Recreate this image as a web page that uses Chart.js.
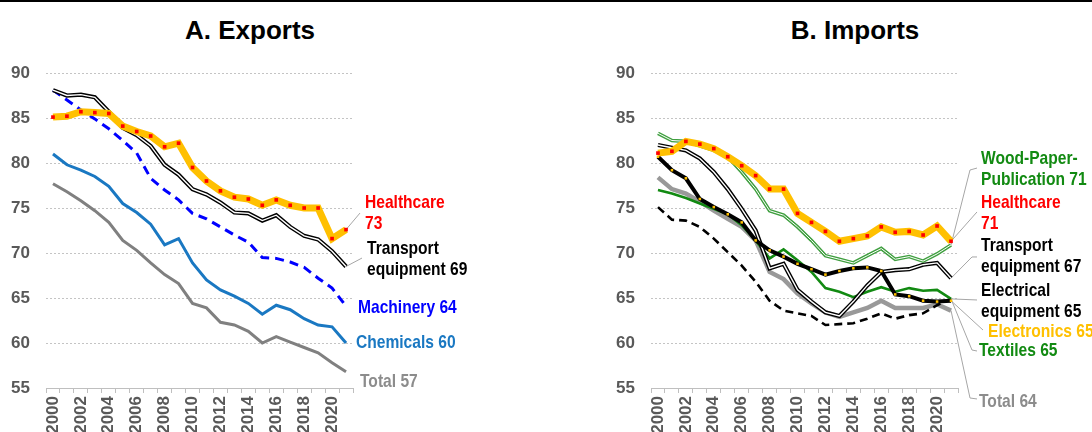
<!DOCTYPE html>
<html>
<head>
<meta charset="utf-8">
<script src="https://cdn.jsdelivr.net/npm/chart.js@4.4.1/dist/chart.umd.min.js"></script>
<style>
  body { margin: 0; width: 1092px; height: 432px; overflow: hidden; background: #fff; position: relative; }
  #topline { position: absolute; left: 0; top: 0; width: 1092px; height: 2px; background: #000; }
  .title { position: absolute; top: 15px; width: 300px; text-align: center; color: #000;
           font: bold 26px "Liberation Sans", Arial, sans-serif; }
  canvas { position: absolute; top: 0; }
</style>
</head>
<body>
<div id="topline"></div>
<div class="title" style="left:100px">A. Exports</div>
<div class="title" style="left:705px">B. Imports</div>
<canvas id="exportsChart" width="546" height="432" style="left:0;width:546px;height:432px"></canvas>
<canvas id="importsChart" width="546" height="432" style="left:546px;width:546px;height:432px"></canvas>
<script>
const years = ['2000','2001','2002','2003','2004','2005','2006','2007','2008','2009','2010',
               '2011','2012','2013','2014','2015','2016','2017','2018','2019','2020','2021'];

// A. Exports
const exHealthcare = [85.1,85.2,85.7,85.6,85.5,84.1,83.5,83.0,81.8,82.2,79.5,78.0,76.9,76.2,76.0,75.3,75.9,75.3,75.0,75.0,71.6,72.6];
const exTransport  = [88.1,87.5,87.6,87.3,85.7,83.9,83.1,81.9,79.8,78.7,77.1,76.5,75.6,74.5,74.4,73.6,74.2,72.9,71.9,71.5,70.2,68.5];
const exMachinery  = [88.1,87.0,85.9,84.9,83.8,82.5,81.1,78.3,77.0,75.9,74.4,73.8,72.9,72.0,71.2,69.5,69.4,69.0,68.4,67.2,66.1,64.1];
const exChemicals  = [81.0,79.8,79.2,78.5,77.4,75.5,74.5,73.2,70.9,71.6,68.9,67.0,65.9,65.2,64.4,63.2,64.2,63.7,62.7,62.0,61.8,60.0];
const exTotal      = [77.7,76.8,75.8,74.7,73.4,71.4,70.3,68.9,67.6,66.6,64.4,63.9,62.3,62.0,61.3,60.0,60.7,60.1,59.5,58.9,57.8,56.8];

// B. Imports
const imWood        = [83.3,82.5,82.4,81.9,81.4,80.7,79.0,77.1,74.7,74.2,72.9,71.4,69.7,69.3,68.9,69.7,70.5,69.3,69.6,69.1,69.9,70.9];
const imHealthcare  = [81.1,81.3,82.4,82.1,81.6,80.7,79.7,78.6,77.1,77.1,74.4,73.4,72.4,71.3,71.6,71.9,72.9,72.3,72.4,72.0,73.0,71.3];
const imTransport   = [82.0,81.7,81.4,80.5,79.0,77.1,74.9,72.5,68.3,68.8,65.9,64.6,63.4,63.0,64.6,66.4,67.9,68.1,68.2,68.7,68.9,67.2];
const imElectrical  = [75.1,73.7,73.6,72.9,71.6,70.1,68.6,66.8,64.7,63.6,63.3,63.0,62.0,62.1,62.2,62.7,63.3,62.7,63.1,63.3,64.2,64.9];
const imElectronics = [80.7,79.2,78.3,76.0,75.1,74.3,73.4,71.4,70.3,69.6,68.8,68.2,67.6,68.0,68.3,68.4,68.0,65.4,65.2,64.7,64.6,64.7];
const imTextiles    = [77.0,76.6,76.1,75.5,74.9,74.3,73.1,71.4,69.4,70.4,69.2,67.9,66.1,65.7,65.1,65.7,66.2,65.7,66.1,65.8,65.9,64.9];
const imTotal       = [78.4,77.1,76.6,75.7,74.7,73.8,72.9,71.4,67.9,67.1,65.5,64.4,63.4,62.9,63.4,63.9,64.7,63.9,63.9,63.9,64.3,63.6];

const FONT = '"Liberation Sans", Arial, sans-serif';
const TICK_GRAY = '#595959';
const SQUEEZE = 0.82; // the original labels use a narrow face

function line(data, color, width, extra) {
  return Object.assign({ data, borderColor: color, borderWidth: width, pointRadius: 0,
    tension: 0, fill: false }, extra || {});
}

// end labels with leader lines, placed in value units on the y scale
const endLabels = {
  id: 'endLabels',
  beforeDatasetsDraw(chart, args, opts) {
    const { ctx, chartArea } = chart;
    const y = chart.scales.y;
    ctx.save();
    ctx.strokeStyle = '#a6a6a6';
    ctx.lineWidth = 1;
    opts.items.forEach(item => {
      if (!item.leader) return;
      const pts = chart.getDatasetMeta(item.from).data;
      const last = pts[pts.length - 1];
      ctx.beginPath();
      ctx.moveTo(last.x, last.y);
      item.leader.forEach(p => ctx.lineTo(chartArea.right + p[0], y.getPixelForValue(p[1])));
      ctx.stroke();
    });
    ctx.restore();
  },
  afterDraw(chart, args, opts) {
    const { ctx, chartArea } = chart;
    const y = chart.scales.y;
    ctx.save();
    ctx.font = 'bold 19px ' + FONT;
    ctx.textBaseline = 'middle';
    ctx.textAlign = 'left';
    opts.items.forEach(item => {
      ctx.fillStyle = item.color;
      item.lines.forEach((t, i) => {
        ctx.save();
        ctx.translate(chartArea.right + item.dx, y.getPixelForValue(item.v) + i * 21);
        ctx.scale(SQUEEZE, 1);
        ctx.fillText(t, 0, 0);
        ctx.restore();
      });
    });
    ctx.restore();
  }
};

function makeOptions(yWidth, padRight, items) {
  return {
    responsive: false,
    animation: false,
    layout: { padding: { top: 73, right: padRight, left: 0, bottom: 0 } },
    plugins: { legend: { display: false }, tooltip: { enabled: false }, endLabels: { items } },
    scales: {
      x: {
        offset: true,
        grid: { drawOnChartArea: false, drawTicks: true, tickLength: 5, color: '#bfbfbf', offset: true },
        border: { display: true, color: '#bfbfbf' },
        ticks: {
          autoSkip: false, maxRotation: 90, minRotation: 90, padding: 3,
          color: TICK_GRAY, font: { family: FONT, size: 17, weight: 'bold' },
          callback: (v, i) => (i % 2 === 0 ? years[i] : '')
        },
        afterFit: s => { s.height = 44; }
      },
      y: {
        min: 55, max: 90,
        ticks: { stepSize: 5, padding: 16, color: TICK_GRAY, font: { family: FONT, size: 17, weight: 'bold' } },
        grid: { drawTicks: false, color: c => (c.tick.value === 55 ? 'rgba(0,0,0,0)' : '#c4c4c4') },
        border: { display: false, dash: [2, 2] },
        afterFit: s => { s.width = yWidth; }
      }
    }
  };
}

// datasets are listed top-most first (Chart.js paints the last one first)
new Chart(document.getElementById('exportsChart'), {
  type: 'line',
  data: {
    labels: years,
    datasets: [
      line(exHealthcare, '#ffc000', 7, { pointRadius: 2.6, pointStyle: 'rect', pointBackgroundColor: '#ff0000', pointBorderWidth: 0 }),
      line(exTransport, '#ffffff', 1.4),
      line(exTransport, '#000000', 4.2),
      line(exMachinery, '#0000ff', 3, { borderDash: [9, 6] }),
      line(exChemicals, '#1a78c2', 3),
      line(exTotal, '#808080', 3)
    ]
  },
  options: makeOptions(46, 193, [
    { lines: ['Healthcare', '73'], color: '#ff0000', dx: 12, v: 75.56, from: 0, leader: [[7, 74.44]] },
    { lines: ['Transport', 'equipment 69'], color: '#000000', dx: 14, v: 70.44, from: 2, leader: [[9, 69.44]] },
    { lines: ['Machinery 64'], color: '#0000ff', dx: 5, v: 63.89 },
    { lines: ['Chemicals 60'], color: '#1a78c2', dx: 3, v: 60.0 },
    { lines: ['Total 57'], color: '#8c8c8c', dx: 7, v: 55.67 }
  ]),
  plugins: [endLabels]
});

new Chart(document.getElementById('importsChart'), {
  type: 'line',
  data: {
    labels: years,
    datasets: [
      line(imHealthcare, '#ffc000', 7, { pointRadius: 2.6, pointStyle: 'rect', pointBackgroundColor: '#ff0000', pointBorderWidth: 0 }),
      line(imWood, '#ffffff', 1),
      line(imWood, '#3f9f3f', 3.6),
      line(imElectronics, '#000000', 4, { pointRadius: 1.8, pointStyle: 'rect', pointBackgroundColor: '#ffc000', pointBorderWidth: 0 }),
      line(imTransport, '#ffffff', 1.4),
      line(imTransport, '#000000', 4.2),
      line(imTextiles, '#128a12', 2.6),
      line(imElectrical, '#000000', 2.6, { borderDash: [8, 5] }),
      line(imTotal, '#999999', 4.5)
    ]
  },
  options: makeOptions(105, 134, [
    { lines: ['Wood-Paper-', 'Publication 71'], color: '#128a12', dx: 23, v: 80.44, from: 2, leader: [[12, 79.22], [19, 79.44]] },
    { lines: ['Healthcare', '71'], color: '#ff0000', dx: 23, v: 75.56, from: 0, leader: [[19, 74.56]] },
    { lines: ['Transport', 'equipment 67'], color: '#000000', dx: 23, v: 70.78, from: 5, leader: [[14, 69.56], [19, 69.56]] },
    { lines: ['Electrical', 'equipment 65'], color: '#000000', dx: 23, v: 65.78, from: 7, leader: [[19, 64.78]] },
    { lines: ['Electronics 65'], color: '#ffc000', dx: 30, v: 61.22, from: 3, leader: [[25, 61.44]] },
    { lines: ['Textiles 65'], color: '#128a12', dx: 21, v: 59.11, from: 6, leader: [[14, 59.22], [19, 59.11]] },
    { lines: ['Total 64'], color: '#8c8c8c', dx: 21, v: 53.44, from: 8, leader: [[12, 53.89], [19, 53.78]] }
  ]),
  plugins: [endLabels]
});
</script>
</body>
</html>
